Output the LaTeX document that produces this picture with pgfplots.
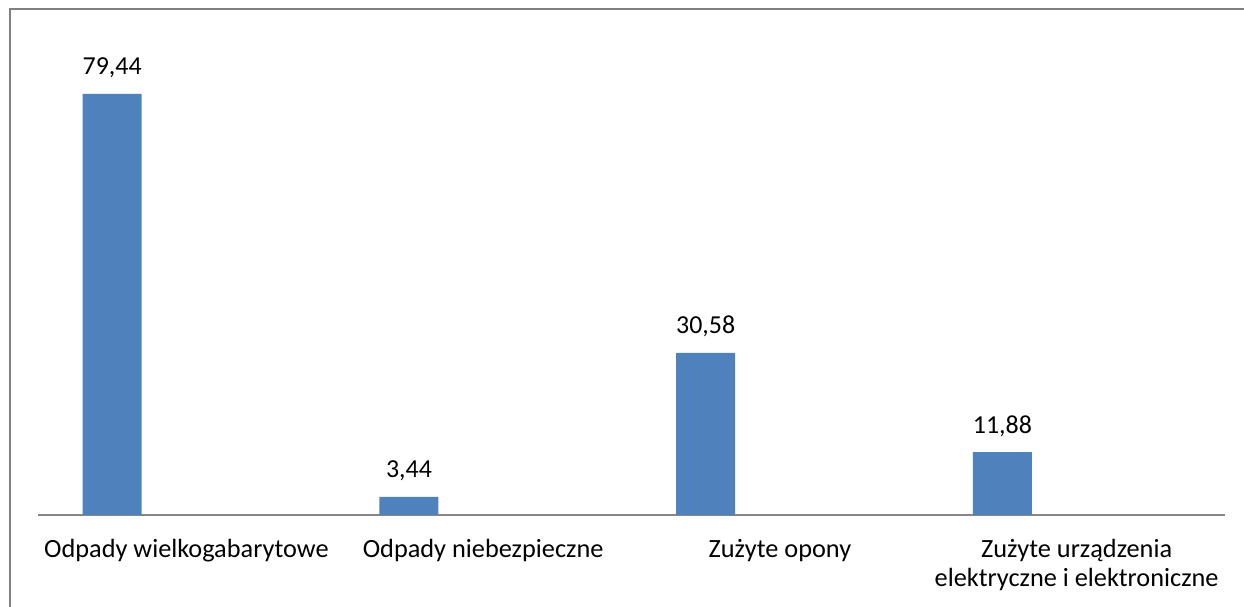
\documentclass[border=0pt]{standalone}
\usepackage{fontspec}
\setmainfont{Carlito}
\usepackage{pgfplots}
\pgfplotsset{compat=1.18}
\definecolor{barblue}{RGB}{79,129,189}
\definecolor{axgray}{RGB}{134,134,134}
\definecolor{framegray}{RGB}{128,128,128}
\begin{document}
\begin{tikzpicture}
\useasboundingbox (0,0) rectangle (622bp,303.5bp);
\draw[framegray, line width=1bp] (4.75bp,-1bp) -- (4.75bp,298.75bp) -- (623bp,298.75bp);
\begin{axis}[
  at={(19bp,46bp)}, anchor=south west,
  scale only axis, width=593.5bp, height=238.5bp,
  xmin=-0.25, xmax=3.75, ymin=0, ymax=90,
  axis y line=none,
  axis x line*=bottom,
  x axis line style={axgray, line width=0.8bp, -},
  xtick={0.25,1.25,2.25,3.25},
  xticklabels={Odpady wielkogabarytowe, Odpady niebezpieczne, Zużyte opony, {Zużyte urządzenia\\elektryczne i elektroniczne}},
  major tick length=0pt,
  xticklabel style={font=\fontsize{13.2}{14.5}\selectfont, align=center, anchor=north, yshift=-8.5bp},
  ybar, bar width=29.5bp,
  nodes near coords,
  every node near coord/.append style={font=\fontsize{13}{14.5}\selectfont, anchor=base, yshift=9.5bp},
  /pgf/number format/.cd, use comma, fixed, fixed zerofill, precision=2, assume math mode=true,
]
\addplot[fill=barblue, draw=none] coordinates {(0,79.44) (1,3.44) (2,30.58) (3,11.88)};
\end{axis}
\end{tikzpicture}
\end{document}
